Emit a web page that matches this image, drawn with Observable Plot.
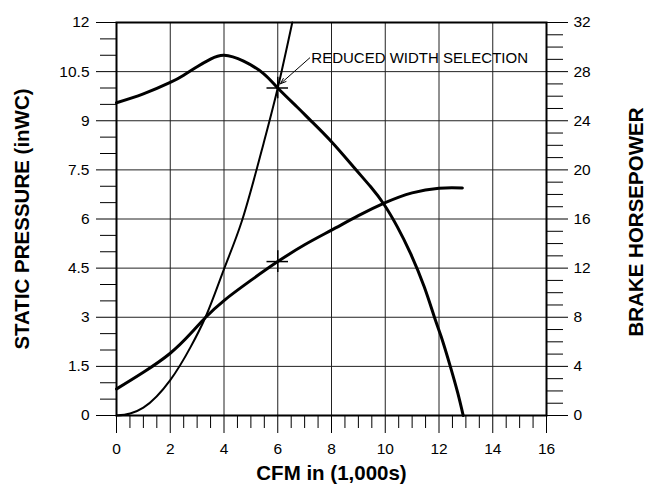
<!DOCTYPE html>
<html>
<head>
<meta charset="utf-8">
<script src="https://cdn.jsdelivr.net/npm/d3@7"></script>
<script src="https://cdn.jsdelivr.net/npm/@observablehq/plot@0.6"></script>
<style>
  html, body { margin: 0; padding: 0; background: #fff; }
</style>
</head>
<body>
<div id="chart"></div>
<script>
// ---- Data ----
// Static pressure curve (CFM in 1,000s -> inWC)
const pressureCfm = [0, 1, 2, 2.5, 3, 3.5, 4, 4.73, 5.47, 6, 6.72, 7.21, 8, 8.83, 9.45, 9.95, 10.45, 10.94, 11.45, 11.83, 12.08, 12.42, 12.7, 12.9];
const pressureSp  = [9.55, 9.82, 10.17, 10.39, 10.65, 10.88, 11.0, 10.82, 10.44, 10.0, 9.42, 9.02, 8.36, 7.58, 6.99, 6.45, 5.76, 4.95, 3.93, 3.0, 2.41, 1.5, 0.68, 0];

// Brake horsepower curve (CFM -> BHP, right axis)
const bhpCfm = [0, 1, 2, 2.75, 3.31, 4, 5, 6, 7, 8, 9, 10, 11, 12, 12.87];
const bhpHp  = [2.16, 3.52, 5.07, 6.65, 7.98, 9.36, 11.0, 12.53, 13.9, 15.09, 16.27, 17.33, 18.13, 18.51, 18.53];

// System curve (CFM -> inWC)
const systemCfm = [0, 0.51, 1, 2, 2.75, 3.31, 4, 4.65, 5.47, 6, 6.54];
const systemSp  = [0, 0.06, 0.24, 1.08, 2.08, 3.0, 4.47, 5.9, 8.3, 10.0, 12.0];

// Operating-point markers
const markerCfm = [6, 6];
const markerSp  = [10, 4.7];

// Annotation
const noteText = ["REDUCED WIDTH SELECTION"];
const noteCfm = [7.25];
const noteSp = [10.92];
const arrowFromCfm = [7.19], arrowFromSp = [10.92];
const arrowToCfm = [6.1], arrowToSp = [10.13];

// Axis ticks and titles
const cfmTicks = [0, 2, 4, 6, 8, 10, 12, 14, 16];
const cfmMinor = d3.range(0.5, 16, 0.5).filter(v => v % 2 !== 0);
const spTicks = [0, 1.5, 3, 4.5, 6, 7.5, 9, 10.5, 12];
const spMinor = d3.range(0.5, 12, 0.5).filter(v => v % 1.5 !== 0);
const bhpTicks = [0, 4, 8, 12, 16, 20, 24, 28, 32];
const bhpMinor = d3.range(1, 32, 1).filter(v => v % 4 !== 0);
const xTitle = ["CFM in (1,000s)"];
const yTitle = ["STATIC PRESSURE (inWC)"];
const y2Title = ["BRAKE HORSEPOWER"];

// ---- Build rows ----
const HP_PER_INWC = 32 / 12;
const toSp = hp => hp / HP_PER_INWC;
const pressure = pressureCfm.map((c, i) => ({cfm: c, sp: pressureSp[i]}));
const bhp = bhpCfm.map((c, i) => ({cfm: c, hp: bhpHp[i]}));
const system = systemCfm.map((c, i) => ({cfm: c, sp: systemSp[i]}));
const markers = markerCfm.map((c, i) => ({cfm: c, sp: markerSp[i]}));
const notes = noteText.map((t, i) => ({label: t, cfm: noteCfm[i], sp: noteSp[i]}));
const arrows = arrowFromCfm.map((c, i) => ({x1: c, y1: arrowFromSp[i], x2: arrowToCfm[i], y2: arrowToSp[i]}));

const titleFont = 20.5;
const chart = Plot.plot({
  width: 663,
  height: 485,
  marginLeft: 116,
  marginRight: 117,
  marginTop: 22,
  marginBottom: 70,
  x: {domain: [0, 16]},
  y: {domain: [0, 12]},
  style: {
    fontFamily: "Arial, 'Liberation Sans', sans-serif",
    fontSize: "15.5px",
    color: "#000",
    background: "#fff",
    overflow: "visible"
  },
  marks: [
    Plot.gridX({ticks: cfmTicks.slice(1, -1), stroke: "#222", strokeOpacity: 1, strokeWidth: 1}),
    Plot.gridY({ticks: spTicks.slice(1, -1), stroke: "#222", strokeOpacity: 1, strokeWidth: 1}),
    // bottom axis
    Plot.axisX({ticks: cfmTicks, tickSize: 18, tickPadding: 9, label: null, tickFormat: d => String(d)}),
    Plot.axisX({ticks: cfmMinor, tickSize: 13, label: null, tickFormat: () => ""}),
    // left axis
    Plot.axisY({anchor: "left", ticks: spTicks, tickSize: 20, tickPadding: 7, label: null, tickFormat: d => String(d)}),
    Plot.axisY({anchor: "left", ticks: spMinor, tickSize: 16, label: null, tickFormat: () => ""}),
    // right axis (brake horsepower)
    Plot.axisY({anchor: "right", ticks: bhpTicks.map(toSp), tickSize: 21, tickPadding: 6, label: null,
      tickFormat: d => String(Math.round(d * HP_PER_INWC))}),
    Plot.axisY({anchor: "right", ticks: bhpMinor.map(toSp), tickSize: 16, label: null, tickFormat: () => ""}),
    Plot.frame({stroke: "#000", strokeWidth: 2}),
    // curves
    Plot.line(system, {x: "cfm", y: "sp", curve: "monotone-x", stroke: "#000", strokeWidth: 2}),
    Plot.line(pressure, {x: "cfm", y: "sp", curve: "natural", stroke: "#000", strokeWidth: 3}),
    Plot.line(bhp, {x: "cfm", y: d => toSp(d.hp), curve: "natural", stroke: "#000", strokeWidth: 3}),
    // markers
    Plot.ruleY(markers, {y: "sp", x1: d => d.cfm - 0.4, x2: d => d.cfm + 0.4, stroke: "#000", strokeWidth: 1.5}),
    Plot.ruleX(markers, {x: "cfm", y1: d => d.sp - 0.33, y2: d => d.sp + 0.33, stroke: "#000", strokeWidth: 1.5}),
    // annotation
    Plot.arrow(arrows, {x1: "x1", y1: "y1", x2: "x2", y2: "y2", headLength: 9, headAngle: 40, stroke: "#000", strokeWidth: 1}),
    Plot.text(notes, {x: "cfm", y: "sp", text: "label", textAnchor: "start", fontSize: 15, fill: "#000"}),
    // titles
    Plot.text(xTitle, {text: d => d, frameAnchor: "bottom", lineAnchor: "middle", textAnchor: "middle", dy: 58, fontSize: titleFont, fontWeight: "bold", fill: "#000"}),
    Plot.text(yTitle, {text: d => d, frameAnchor: "left", lineAnchor: "middle", textAnchor: "middle", dx: -94.5, rotate: -90, fontSize: titleFont, fontWeight: "bold", fill: "#000"}),
    Plot.text(y2Title, {text: d => d, frameAnchor: "right", lineAnchor: "middle", textAnchor: "middle", dx: 89.5, dy: 3, rotate: -90, fontSize: titleFont, fontWeight: "bold", fill: "#000"})
  ]
});
document.getElementById("chart").appendChild(chart);
</script>
</body>
</html>
